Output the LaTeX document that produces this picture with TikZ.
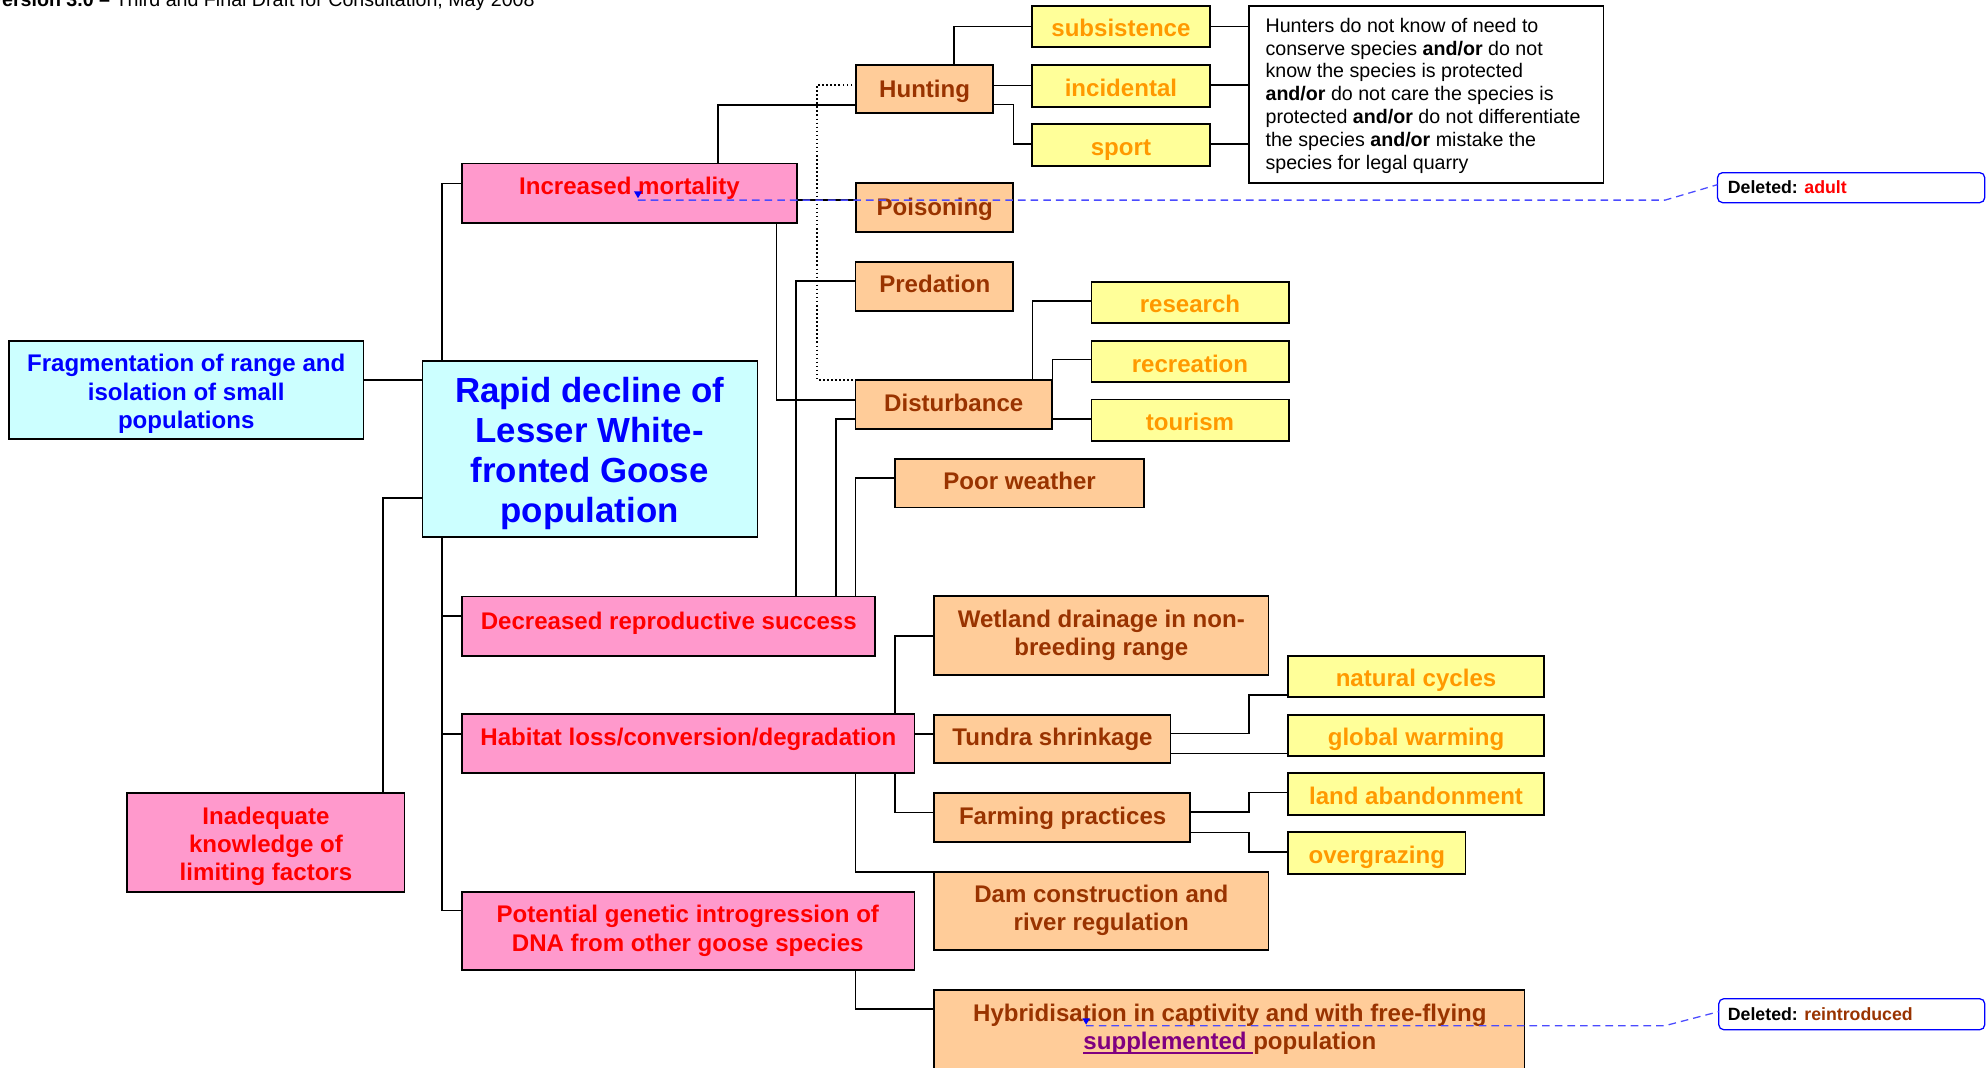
\documentclass[tikz,border=0pt]{standalone}
\usepackage{fontspec}
\setmainfont{Liberation Sans}
\usetikzlibrary{calc}
\pgfdeclarelayer{bg}
\pgfsetlayers{bg,main}
\definecolor{pinkf}{HTML}{FF99CC}
\definecolor{cyanf}{HTML}{CCFFFF}
\definecolor{orangef}{HTML}{FFCC99}
\definecolor{yellowf}{HTML}{FFFF99}
\definecolor{brownt}{HTML}{993300}
\definecolor{oranget}{HTML}{FF9900}
\definecolor{redt}{HTML}{FF0000}
\definecolor{bluet}{HTML}{0000FF}
\definecolor{purplet}{HTML}{800080}
\definecolor{dashblue}{HTML}{4B4BFF}
\newcommand\fsz[2]{\fontsize{#1}{#2}\selectfont}
\newcommand\mybox[6]{\node[#1, anchor=north west, minimum width={#5-#3}, minimum height={#6-#4}] (#2) at (#3,#4) {};}
\newcommand\myul[1]{\setbox0\hbox{#1}\rlap{\rule[-3.6pt]{\wd0}{1.8pt}}\box0}
\tikzset{
  bx/.style={draw=black, line width=1.4pt, inner sep=0pt, outer sep=0pt},
  pinkb/.style={bx, fill=pinkf},
  cyanb/.style={bx, fill=cyanf},
  orb/.style={bx, fill=orangef},
  yelb/.style={bx, fill=yellowf},
  whb/.style={bx, fill=white},
  tx/.style={inner sep=0pt, align=center, font=\bfseries\fsz{19}{22.3}},
  sl/.style={text height=13.6pt, text depth=0pt},
  pinkt/.style={tx, text=redt},
  cyant/.style={tx, text=bluet},
  ort/.style={tx, text=brownt},
  yelt/.style={tx, text=oranget},
  conn/.style={draw=black, line width=1.2pt},
  dotc/.style={draw=black, line width=1.2pt, dotted},
  cmt/.style={draw=dashblue, line width=1pt, dash pattern=on 6pt off 4pt},
  delb/.style={draw=bluet, line width=1pt, rounded corners=4pt, fill=white, inner sep=0pt, outer sep=0pt},
  delt/.style={inner sep=0pt, anchor=west, font=\bfseries\fsz{14}{16}, text height=10pt, text depth=0pt},
}
\begin{document}
\begin{tikzpicture}[x=1pt, y=-1pt]
\useasboundingbox (0,0) rectangle (1568,843);
\clip (0,0) rectangle (1568,843);
\begin{pgfonlayer}{bg}
\fill[white] (0,0) rectangle (1568,843);
\end{pgfonlayer}

% header
\node[anchor=base west, inner sep=0pt, font=\fsz{15.5}{18}] (hdr) at (-8,5) {\textbf{Version 3.0 –} Third and Final Draft for Consultation, May 2008};

% boxes
\mybox{cyanb}{frag}{7}{269}{287}{346.5}
\mybox{cyanb}{rd}{333.5}{285}{598}{424}
\mybox{pinkb}{im}{365}{129}{629}{176}
\mybox{pinkb}{drs}{364.5}{471}{691}{518}
\mybox{pinkb}{hab}{364.5}{564}{722}{610.6}
\mybox{pinkb}{pg}{364.5}{704}{722}{766}
\mybox{pinkb}{inad}{100.3}{626}{319.4}{704.3}
\mybox{orb}{hunt}{676}{51.5}{784}{89.5}
\mybox{orb}{pois}{676}{144.5}{800}{183}
\mybox{orb}{pred}{675.5}{207}{800}{245.3}
\mybox{orb}{dist}{675.5}{300}{830.8}{338.4}
\mybox{orb}{poor}{706.5}{362.4}{903.4}{400.6}
\mybox{orb}{wet}{737.5}{470.6}{1001.5}{533}
\mybox{orb}{tun}{737.5}{564.2}{924.2}{602.4}
\mybox{orb}{farm}{737.5}{626.3}{939.6}{664.5}
\mybox{orb}{dam}{737.5}{688.5}{1001.5}{750}
\mybox{orb}{hyb}{737.5}{781.4}{1203.7}{870}
\mybox{yelb}{subs}{815}{4.7}{955.3}{37.4}
\mybox{yelb}{inc}{815}{51.3}{955.3}{84.2}
\mybox{yelb}{sport}{815}{97.9}{955.3}{130.8}
\mybox{yelb}{res}{861.7}{222.4}{1017.5}{255}
\mybox{yelb}{rec}{861.7}{269}{1017.5}{301.9}
\mybox{yelb}{tour}{861.7}{315.5}{1017.5}{348.4}
\mybox{yelb}{nat}{1017}{517.7}{1219}{550}
\mybox{yelb}{glob}{1017}{564.2}{1219}{596.6}
\mybox{yelb}{land}{1017}{610.6}{1219}{643.5}
\mybox{yelb}{over}{1017}{657.1}{1157.1}{690}
\mybox{whb}{hunters}{986.4}{4.7}{1266}{144.5}
\mybox{delb}{del1}{1356}{136.3}{1567}{160}
\mybox{delb}{del2}{1357}{788.5}{1567}{813}

% connectors (behind boxes)
\begin{pgfonlayer}{bg}
\draw[conn] (rd.north -| 349,0) |- (im.west |- 0,145);
\draw[conn] (rd.south -| 349,0) |- (pg.west |- 0,719);
\draw[conn] (rd.south -| 349,0) |- (drs.west |- 0,486.5);
\draw[conn] (rd.south -| 349,0) |- (hab.west |- 0,579.5);
\draw[conn] (frag.east |- 0,300) -- (rd.west |- 0,300);
\draw[conn] (inad.north -| 302.5,0) |- (rd.west |- 0,393.3);
\draw[conn] (im.north -| 567,0) |- (hunt.west |- 0,83);
\draw[conn] (im.east |- 0,158) -- (pois.west |- 0,158);
\draw[conn] (im.south -| 613,0) |- (dist.west |- 0,316);
\draw[conn] (drs.north -| 628.5,0) |- (pred.west |- 0,222);
\draw[conn] (drs.north -| 660,0) |- (dist.west |- 0,331);
\draw[conn] (drs.north -| 675.5,0) |- (poor.west |- 0,377.5);
\draw[conn] (hunt.north -| 753,0) |- (subs.west);
\draw[conn] (hunt.east |- 0,67.5) -- (inc.west |- 0,67.5);
\draw[conn] (hunt.east |- 0,82.4) -- (800,82.4) |- (sport.west |- 0,113.7);
\draw[conn] (subs.east) -- (hunters.west |- subs.east);
\draw[conn] (inc.east |- 0,67) -- (hunters.west |- 0,67);
\draw[conn] (sport.east |- 0,113.7) -- (hunters.west |- 0,113.7);
\draw[conn] (dist.north -| 815,0) |- (res.west |- 0,237.7);
\draw[conn] (dist.north east) |- (rec.west |- 0,284);
\draw[conn] (dist.east |- 0,331) -- (tour.west |- 0,331);
\draw[conn] (hab.north -| 706.5,0) |- (wet.west |- 0,502);
\draw[conn] (hab.east |- 0,579.5) -- (tun.west |- 0,579.5);
\draw[conn] (hab.south -| 706.5,0) |- (farm.west |- 0,641.6);
\draw[conn] (hab.south -| 675.5,0) |- (dam.north west);
\draw[conn] (pg.south -| 675.5,0) |- (hyb.west |- 0,796.7);
\draw[conn] (tun.east |- 0,579.3) -- (986.2,579.3) |- (nat.west |- 0,548.7);
\draw[conn] (tun.east |- 0,595) -- (glob.west |- 0,595);
\draw[conn] (farm.east |- 0,641) -- (986.2,641) |- (land.west |- 0,625.8);
\draw[conn] (farm.east |- 0,657.4) -- (986.2,657.4) |- (over.west |- 0,672.7);
\end{pgfonlayer}
\draw[dotc] (hunt.west |- 0,67) -| (645,0 |- dist.north) -- (689,0 |- dist.north);

% texts
\node[cyant] (frag-t) at (147,311) {Fragmentation of range and\\isolation of small\\populations};
\node[cyant, font=\bfseries\fsz{27.5}{31.6}] (rd-t) at (465.5,358) {Rapid decline of\\Lesser White-\\fronted Goose\\population};
\node[pinkt, sl] (im-t) at (497,147) {Increased mortality};
\node[pinkt, sl] (drs-t) at (528,490) {Decreased reproductive success};
\node[pinkt, sl] (hab-t) at (543.5,582) {Habitat loss/conversion/degradation};
\node[pinkt] (pg-t) at (543,735) {Potential genetic introgression of\\DNA from other goose species};
\node[pinkt] (inad-t) at (210,668) {Inadequate\\knowledge of\\limiting factors};
\node[ort, sl] (hunt-t) at (730,70) {Hunting};
\node[ort, sl] (pois-t) at (738,163) {Poisoning};
\node[ort, sl] (pred-t) at (738,224) {Predation};
\node[ort, sl] (dist-t) at (753,318) {Disturbance};
\node[ort, sl] (poor-t) at (805,380) {Poor weather};
\node[ort] (wet-t) at (869.5,501.5) {Wetland drainage in non-\\breeding range};
\node[ort, sl] (tun-t) at (831,582) {Tundra shrinkage};
\node[ort, sl] (farm-t) at (839,644) {Farming practices};
\node[ort] (dam-t) at (869.5,719) {Dam construction and\\river regulation};
\node[ort] (hyb-t) at (971,812.5) {Hybridisation in captivity and with free-flying\\{\color{purplet}\myul{supplemented }}population};
\node[yelt, sl] (subs-t) at (885,22) {subsistence};
\node[yelt, sl] (inc-t) at (885,69) {incidental};
\node[yelt, sl] (sport-t) at (885,116) {sport};
\node[yelt, sl] (res-t) at (939.5,240) {research};
\node[yelt, sl] (rec-t) at (939.5,287) {recreation};
\node[yelt, sl] (tour-t) at (939.5,333) {tourism};
\node[yelt, sl] (nat-t) at (1118,535) {natural cycles};
\node[yelt, sl] (glob-t) at (1118,582) {global warming};
\node[yelt, sl] (land-t) at (1118,628) {land abandonment};
\node[yelt, sl] (over-t) at (1087,675) {overgrazing};
\node[inner sep=0pt, anchor=west, align=left, font=\fsz{15.5}{18}] (hunters-t) at (999,75.5) {Hunters do not know of need to\\conserve species \textbf{and/or} do not\\know the species is protected\\\textbf{and/or} do not care the species is\\protected \textbf{and/or} do not differentiate\\the species \textbf{and/or} mistake the\\species for legal quarry};
\node[delt] (del1-t) at (1364,148) {Deleted: \textcolor{redt}{adult}};
\node[delt] (del2-t) at (1364,800.8) {Deleted: \textcolor{brownt}{reintroduced}};

% comment markers and dashed leaders
\coordinate (mk1) at (503.7,158);
\coordinate (mk2) at (857.5,809.8);
\fill[bluet] (500.5,151) -- (507,151) -- (503.7,156.5) -- cycle;
\fill[bluet] (854.5,804) -- (860.5,804) -- (857.5,809) -- cycle;
\draw[cmt] (mk1) -- (1314.6,158) -- (del1.west |- 0,145.8);
\draw[cmt] (mk2) -- (1314.6,809.8) -- (del2.west |- 0,798.7);
\end{tikzpicture}
\end{document}
